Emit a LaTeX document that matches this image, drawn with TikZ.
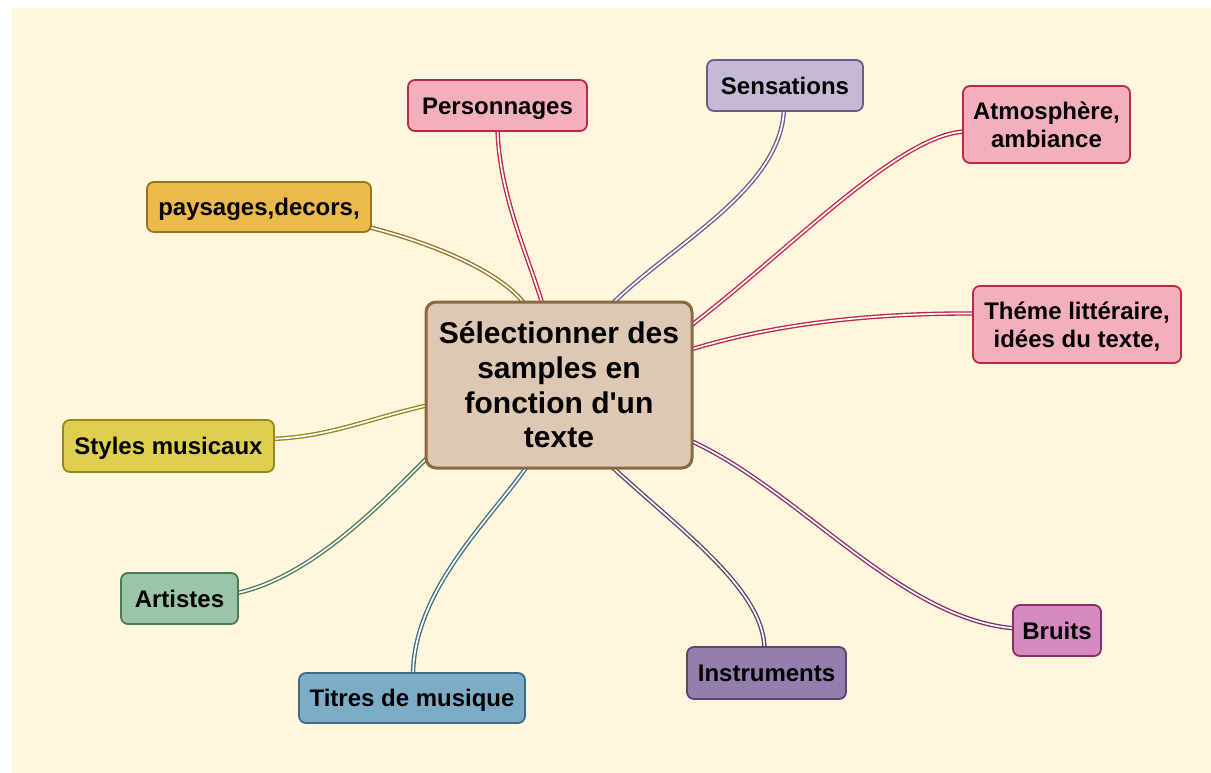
\documentclass[tikz,border=0pt]{standalone}
\usepackage{fontspec}
\setmainfont{Liberation Sans}[Ligatures=TeXOff]
\usetikzlibrary{calc}
\pgfdeclarelayer{back}\pgfdeclarelayer{links}\pgfdeclarelayer{boxes}
\pgfsetlayers{back,links,boxes,main}
\definecolor{cream}{HTML}{FFF6DC}
\definecolor{pinkF}{HTML}{F4AFBD}\definecolor{pinkD}{HTML}{C0254A}
\definecolor{sensF}{HTML}{C6B9D6}\definecolor{sensD}{HTML}{6B5A8E}
\definecolor{paysF}{HTML}{ECBA4B}\definecolor{paysD}{HTML}{987224}
\definecolor{stylF}{HTML}{E0CF4E}\definecolor{stylD}{HTML}{958720}
\definecolor{artF}{HTML}{9CC4A7}\definecolor{artD}{HTML}{4B7B56}
\definecolor{titF}{HTML}{7DADC6}\definecolor{titD}{HTML}{3B6D86}
\definecolor{insF}{HTML}{937EAD}\definecolor{insD}{HTML}{574574}
\definecolor{bruF}{HTML}{D48BC0}\definecolor{bruD}{HTML}{8A2D6D}
\definecolor{cenF}{HTML}{DEC7B3}\definecolor{cenD}{HTML}{8D6642}
\newcommand\lst{\rule[-5.3pt]{0pt}{27.8pt}}
\newcommand\cst{\rule[-6.5pt]{0pt}{34.5pt}}
\newcommand\leafbox[8]{%
  \node[leaftext, minimum width=#4pt, minimum height=#5pt] (#1) at (#2,#3) {#8};
  \begin{pgfonlayer}{boxes}
    \draw[leafborder, fill=#6, draw=#7] (#1.west) -- (#1.south west) -- (#1.south east)
      -- (#1.north east) -- (#1.north west) [sharp corners] -- cycle;
  \end{pgfonlayer}}
\begin{document}
\begin{tikzpicture}[x=1pt,y=-1pt,
  leaftext/.style={inner sep=0pt, outer sep=0pt, align=center,
    font=\fontsize{24}{28}\selectfont\bfseries},
  leafborder/.style={line width=1.8pt, rounded corners=7pt},
  con/.style={draw=#1, line width=1.35pt, double=white, double distance=1.7pt}]
\useasboundingbox (0,0) rectangle (1211,773);
\begin{pgfonlayer}{back}
  \fill[cream] (12,8) rectangle (1211,773);
\end{pgfonlayer}
% central node
\node[inner sep=0pt, outer sep=0pt, align=center, minimum width=266pt, minimum height=166pt,
  fill=cenF, draw=cenD, line width=3pt, rounded corners=10pt,
  font=\fontsize{30}{34.7}\selectfont\bfseries] (c) at (559,385)
  {\cst S\'electionner des\\\cst samples en\\\cst fonction d'un\\\cst texte};
% leaves
\leafbox{pers}{497.5}{105.5}{179}{51}{pinkF}{pinkD}{\lst Personnages}
\leafbox{sens}{785}{85.5}{156}{51}{sensF}{sensD}{\lst Sensations}
\leafbox{atmo}{1046.5}{124.5}{167}{77}{pinkF}{pinkD}{\lst Atmosph\`ere,\\\lst ambiance}
\leafbox{theme}{1077}{324.5}{208}{77}{pinkF}{pinkD}{\lst Th\'eme litt\'eraire,\\\lst id\'ees du texte,}
\leafbox{pays}{259}{207}{224}{50}{paysF}{paysD}{\lst paysages,decors,}
\leafbox{styles}{168.5}{446}{211}{52}{stylF}{stylD}{\lst Styles musicaux}
\leafbox{art}{179.5}{598.5}{117}{51}{artF}{artD}{\lst Artistes}
\leafbox{titres}{412}{698}{226}{50}{titF}{titD}{\lst Titres de musique}
\leafbox{instr}{766.5}{673}{159}{52}{insF}{insD}{\lst Instruments}
\leafbox{bruits}{1057}{630.5}{88}{51}{bruF}{bruD}{\lst Bruits}
% connectors
\begin{pgfonlayer}{links}
\draw[con=paysD] ($(pays.east)+(-3,20)$) .. controls (440,245) and (505,275) .. ($(c.north west)+(100,4)$);
\draw[con=pinkD] ($(pers.south)+(0,-3)$) .. controls (499,195) and (528,255) .. ($(c.north west)+(117,4)$);
\draw[con=sensD] ($(sens.south)+(-1,-3)$) .. controls (782,190) and (670,245) .. ($(c.north west)+(184,4)$);
\draw[con=pinkD] ($(atmo.west)+(3,7)$) .. controls (900,133) and (790,250) .. ($(c.north east)+(-3,25)$);
\draw[con=pinkD] ($(theme.west)+(3,-11)$) .. controls (880,313) and (780,322) .. ($(c.north east)+(-3,48)$);
\draw[con=stylD] ($(styles.east)+(-3,-7)$) .. controls (330,437) and (370,418) .. ($(c.west)+(3,20)$);
\draw[con=artD] ($(art.east)+(-3,-5)$) .. controls (310,578) and (380,505) .. ($(c.south west)+(3,-12)$);
\draw[con=titD] ($(titres.north)+(1,3)$) .. controls (413,590) and (490,520) .. ($(c.south west)+(102,-3)$);
\draw[con=insD] ($(instr.north)+(-2,3)$) .. controls (765,590) and (680,530) .. ($(c.south west)+(184,-3)$);
\draw[con=bruD] ($(bruits.west)+(3,-2)$) .. controls (900,620) and (800,490) .. ($(c.east)+(-3,55)$);
\end{pgfonlayer}
\end{tikzpicture}
\end{document}
